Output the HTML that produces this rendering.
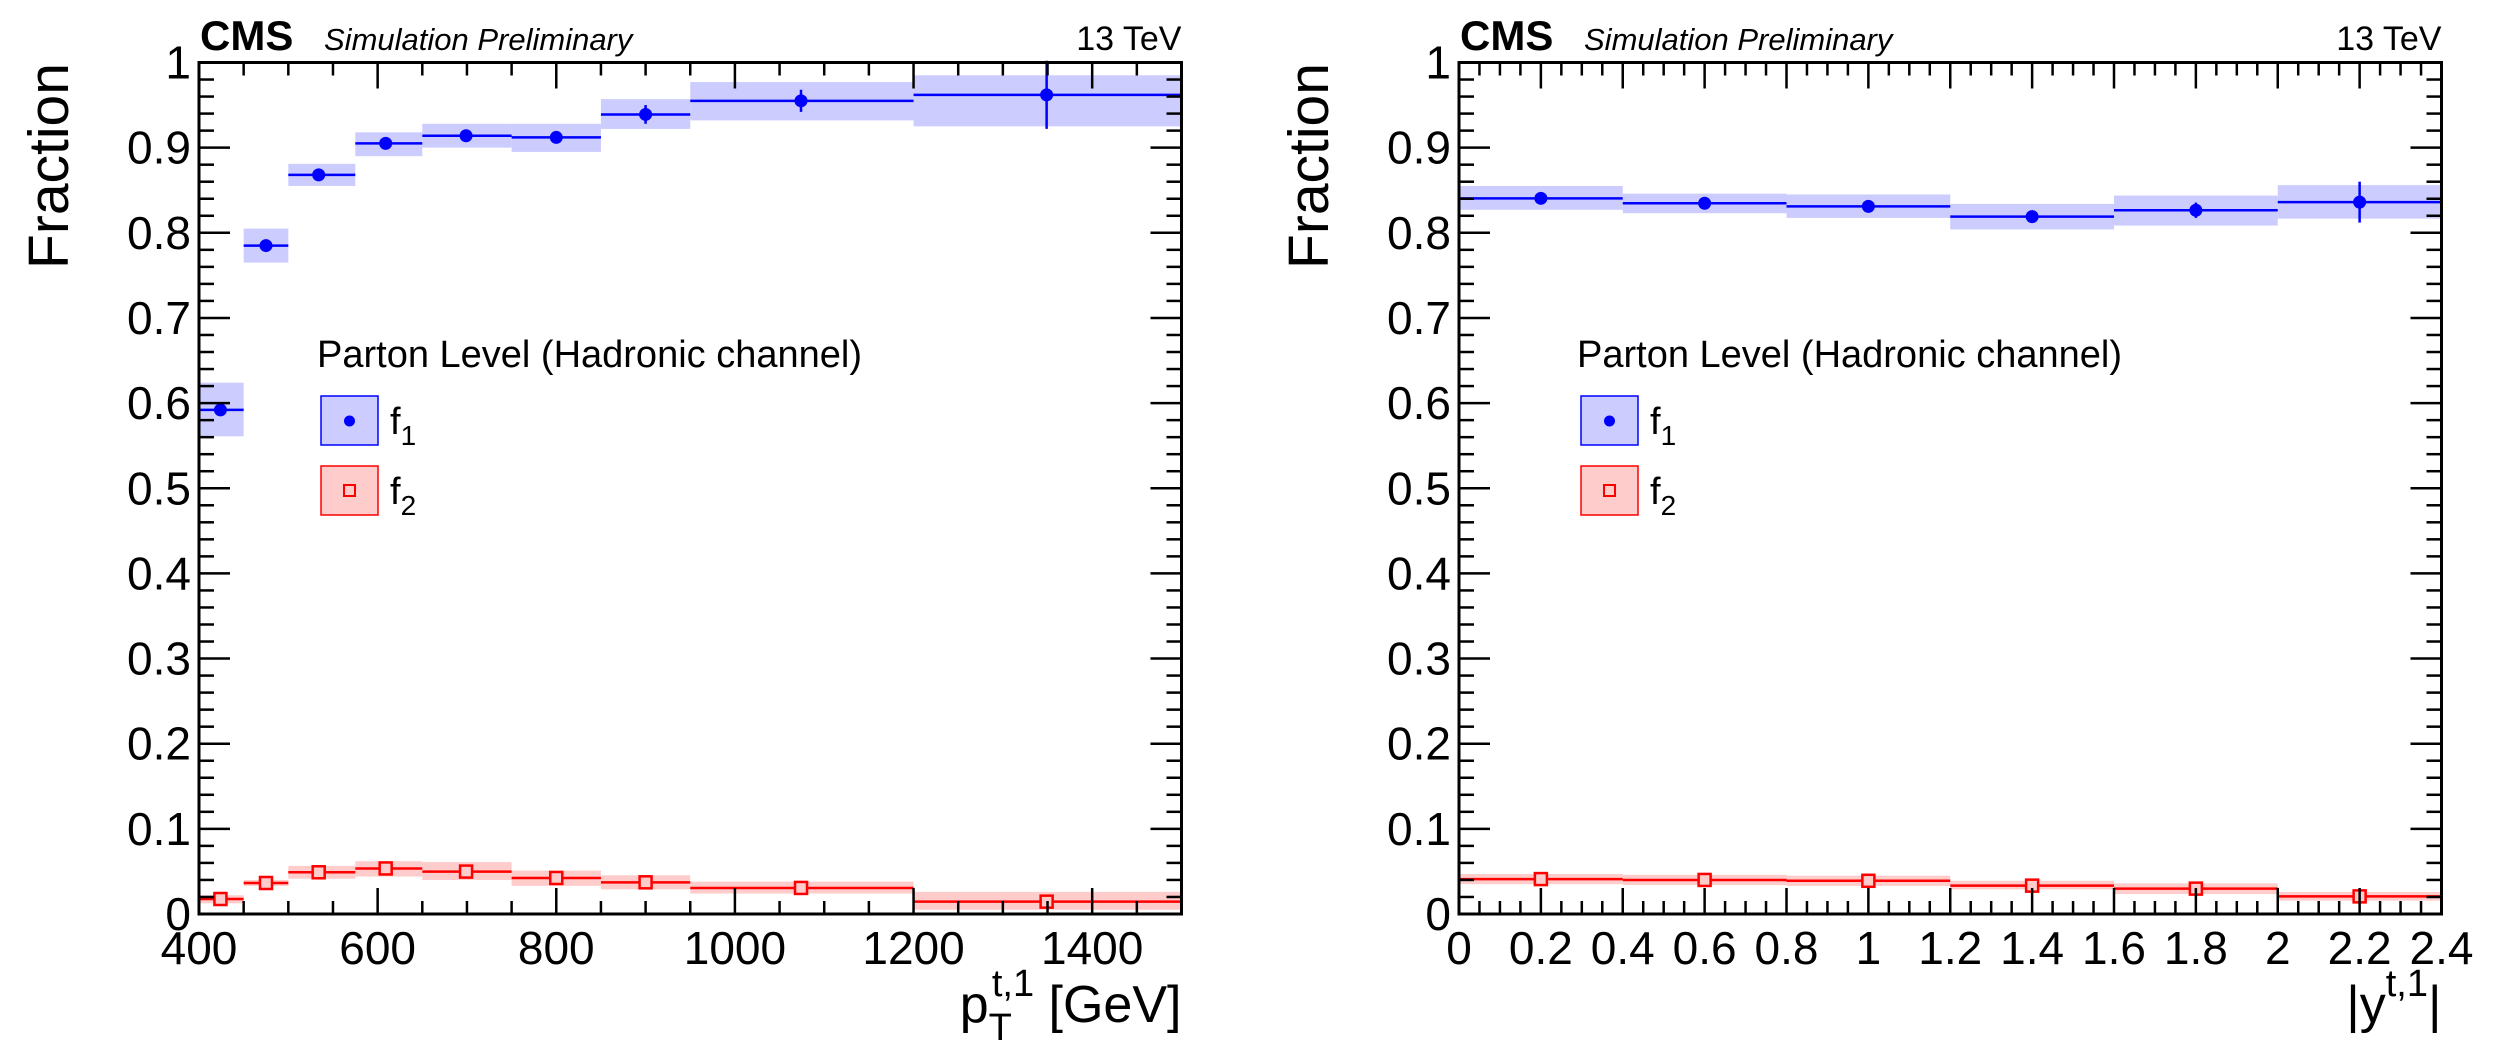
<!DOCTYPE html>
<html><head><meta charset="utf-8"><title>CMS fractions</title>
<style>html,body{margin:0;padding:0;background:#fff;}svg{display:block;font-family:"Liberation Sans",Arial,sans-serif;}</style>
</head><body>
<svg id="chart" xmlns="http://www.w3.org/2000/svg" width="2505" height="1051" viewBox="0 0 2505 1051"></svg>
<script>
// ---- Left panel data (pT) ----
const ptEdges = [400, 450, 500, 575, 650, 750, 850, 950, 1200, 1500];
const ptPoints = [424, 475, 534, 609, 699, 800, 900, 1074, 1349];
const ptF1 = [0.592, 0.785, 0.868, 0.905, 0.914, 0.912, 0.939, 0.955, 0.962];
const ptF1Lo = [0.561, 0.765, 0.855, 0.890, 0.900, 0.895, 0.922, 0.932, 0.925];
const ptF1Hi = [0.624, 0.805, 0.881, 0.918, 0.928, 0.928, 0.957, 0.977, 0.985];
const ptF1Err = [0.006, 0.005, 0.004, 0.004, 0.004, 0.005, 0.011, 0.013, 0.040];
const ptF2 = [0.0176, 0.0364, 0.049, 0.0535, 0.0498, 0.0423, 0.0372, 0.0306, 0.0145];
const ptF2Lo = [0.0125, 0.033, 0.0415, 0.044, 0.040, 0.033, 0.029, 0.024, 0.005];
const ptF2Hi = [0.022, 0.040, 0.0565, 0.062, 0.061, 0.051, 0.0455, 0.038, 0.026];
const ptF2Err = [0.005, 0.005, 0.006, 0.006, 0.006, 0.005, 0.005, 0.005, 0.006];
const ptTicks = [400, 600, 800, 1000, 1200, 1400];
const ptTickLabels = ["400", "600", "800", "1000", "1200", "1400"];

// ---- Right panel data (|y|) ----
const yEdges = [0, 0.4, 0.8, 1.2, 1.6, 2.0, 2.4];
const yPoints = [0.2, 0.6, 1.0, 1.4, 1.8, 2.2];
const yF1 = [0.8405, 0.8347, 0.831, 0.819, 0.8265, 0.836];
const yF1Lo = [0.827, 0.823, 0.8175, 0.804, 0.8085, 0.8166];
const yF1Hi = [0.855, 0.846, 0.845, 0.834, 0.8437, 0.856];
const yF1Err = [0.004, 0.004, 0.004, 0.005, 0.009, 0.024];
const yF2 = [0.041, 0.040, 0.039, 0.0333, 0.0298, 0.0207];
const yF2Lo = [0.035, 0.034, 0.033, 0.029, 0.0235, 0.0157];
const yF2Hi = [0.047, 0.046, 0.045, 0.039, 0.036, 0.0258];
const yF2Err = [0.003, 0.003, 0.003, 0.003, 0.003, 0.004];
const yTicks = [0, 0.2, 0.4, 0.6, 0.8, 1.0, 1.2, 1.4, 1.6, 1.8, 2.0, 2.2, 2.4];
const yTickLabels = ["0", "0.2", "0.4", "0.6", "0.8", "1", "1.2", "1.4", "1.6", "1.8", "2", "2.2", "2.4"];

const fracTicks = [0, 0.1, 0.2, 0.3, 0.4, 0.5, 0.6, 0.7, 0.8, 0.9, 1];
const fracTickLabels = ["0", "0.1", "0.2", "0.3", "0.4", "0.5", "0.6", "0.7", "0.8", "0.9", "1"];

const NS = "http://www.w3.org/2000/svg";
const svg = document.getElementById("chart");
function mk(tag, attrs, parent) {
  const e = document.createElementNS(NS, tag);
  for (const k in attrs) e.setAttribute(k, attrs[k]);
  (parent || svg).appendChild(e);
  return e;
}

function drawPanel(p) {
  const g = mk("g", {});
  
  
  const L = p.left, R = p.left + 982.5, T = 62.5, B = 914;
  const xs = v => L + (v - p.xmin) / (p.xmax - p.xmin) * (R - L);
  const ys = v => B - v * (B - T);

  function series(edges, pts, val, lo, hi, err, fill, col, marker, nm) {
    const sg = mk("g", {}, g);
    
    
    for (let i = 0; i < val.length; i++) {
      const band = mk("rect", {x: xs(edges[i]), y: ys(hi[i]), width: xs(edges[i+1]) - xs(edges[i]), height: ys(lo[i]) - ys(hi[i]), fill: fill}, sg);
      
      
    }
    for (let i = 0; i < val.length; i++) {
      const ln = mk("line", {x1: xs(edges[i]), x2: xs(edges[i+1]), y1: ys(val[i]), y2: ys(val[i]), stroke: col, "stroke-width": 2.5}, sg);
      
      
      const eb = mk("line", {x1: xs(pts[i]), x2: xs(pts[i]), y1: ys(val[i] + err[i]), y2: ys(val[i] - err[i]), stroke: col, "stroke-width": 2.5}, sg);
      
      
      let m;
      if (marker === "circle") {
        m = mk("circle", {cx: xs(pts[i]), cy: ys(val[i]), r: 6.5, fill: col}, sg);
      } else {
        m = mk("rect", {x: xs(pts[i]) - 6, y: ys(val[i]) - 6, width: 12, height: 12, fill: "#fcc", stroke: col, "stroke-width": 2.5}, sg);
      }
      
      
    }
  }
  series(p.edges, p.pts, p.f1, p.f1lo, p.f1hi, p.f1err, "#ccccff", "#0000ff", "circle", "f1-series");
  series(p.edges, p.pts, p.f2, p.f2lo, p.f2hi, p.f2err, "#ffcccc", "#ff0000", "square", "f2-series");

  const fr = mk("rect", {x: L, y: T, width: R - L, height: B - T, fill: "none", stroke: "#000", "stroke-width": 3}, g);
  
  

  for (let k = 0; k <= 50; k++) {
    const v = k / 50, y = ys(v), len = (k % 5 === 0) ? 31 : 15;
    mk("line", {x1: L, x2: L + len, y1: y, y2: y, stroke: "#000", "stroke-width": 2.5}, g);
    mk("line", {x1: R, x2: R - len, y1: y, y2: y, stroke: "#000", "stroke-width": 2.5}, g);
  }
  fracTicks.forEach((v, i) => {
    const t = mk("text", {x: L - 8, y: ys(v) + 16, "text-anchor": "end", "font-size": 46}, g);
    t.textContent = fracTickLabels[i];
    
    
  });
  const n = Math.round((p.xmax - p.xmin) / p.minor);
  for (let k = 0; k <= n; k++) {
    const v = p.xmin + k * p.minor, x = xs(v);
    const major = Math.abs(((v - p.xmin) / p.major) - Math.round((v - p.xmin) / p.major)) < 1e-6;
    const len = major ? 26 : 13;
    mk("line", {x1: x, x2: x, y1: B, y2: B - len, stroke: "#000", "stroke-width": 2.5}, g);
    mk("line", {x1: x, x2: x, y1: T, y2: T + len, stroke: "#000", "stroke-width": 2.5}, g);
  }
  p.ticks.forEach((v, i) => {
    const t = mk("text", {x: xs(v), y: 964, "text-anchor": "middle", "font-size": 46}, g);
    t.textContent = p.tickLabels[i];
    
    
  });

  const yt = mk("text", {x: 0, y: 0, transform: `translate(${L - 131},166) rotate(-90)`, "text-anchor": "middle", "font-size": 57}, g);
  yt.textContent = "Fraction";
  
  
  const xt = mk("text", {x: R, y: 1022, "text-anchor": "end", "font-size": 52}, g);
  xt.innerHTML = p.xtitle;
  
  

  const cms = mk("text", {x: L + 1, y: 50, "font-size": 42, "font-weight": "bold"}, g);
  cms.textContent = "CMS";
  
  
  const sim = mk("text", {x: L + 125, y: 50, "font-size": 31, "font-style": "italic"}, g);
  sim.textContent = "Simulation Preliminary";
  
  
  const tev = mk("text", {x: R, y: 50, "text-anchor": "end", "font-size": 34}, g);
  tev.textContent = "13 TeV";
  
  

  const lg = mk("g", {}, g);
  
  
  const lx = L + 119;
  const hd = mk("text", {x: lx - 1, y: 367, "font-size": 38}, lg);
  hd.textContent = "Parton Level (Hadronic channel)";
  
  
  const e1 = mk("g", {}, lg);
  
  
  mk("rect", {x: lx + 3, y: 396, width: 57, height: 49, fill: "#ccccff", stroke: "#0000ff", "stroke-width": 1.5}, e1);
  mk("circle", {cx: lx + 31.5, cy: 421, r: 5.5, fill: "#0000ff"}, e1);
  const t1 = mk("text", {x: lx + 72, y: 434, "font-size": 38}, e1);
  t1.innerHTML = 'f<tspan dy="11" font-size="28">1</tspan>';
  const e2 = mk("g", {}, lg);
  
  
  mk("rect", {x: lx + 3, y: 466, width: 57, height: 49, fill: "#ffcccc", stroke: "#ff0000", "stroke-width": 1.5}, e2);
  mk("rect", {x: lx + 26, y: 485, width: 11, height: 11, fill: "#ffcccc", stroke: "#ff0000", "stroke-width": 2}, e2);
  const t2 = mk("text", {x: lx + 72, y: 504, "font-size": 38}, e2);
  t2.innerHTML = 'f<tspan dy="11" font-size="28">2</tspan>';
}

drawPanel({name: "pt-panel", left: 199, xmin: 400, xmax: 1500, minor: 50, major: 200,
  edges: ptEdges, pts: ptPoints, f1: ptF1, f1lo: ptF1Lo, f1hi: ptF1Hi, f1err: ptF1Err,
  f2: ptF2, f2lo: ptF2Lo, f2hi: ptF2Hi, f2err: ptF2Err, ticks: ptTicks, tickLabels: ptTickLabels,
  xtitle: 'p<tspan dy="18" font-size="38">T</tspan><tspan dy="-44" dx="-20" font-size="38">t,1</tspan><tspan dy="26"> [GeV]</tspan>'});
drawPanel({name: "rapidity-panel", left: 1459, xmin: 0, xmax: 2.4, minor: 0.05, major: 0.2,
  edges: yEdges, pts: yPoints, f1: yF1, f1lo: yF1Lo, f1hi: yF1Hi, f1err: yF1Err,
  f2: yF2, f2lo: yF2Lo, f2hi: yF2Hi, f2err: yF2Err, ticks: yTicks, tickLabels: yTickLabels,
  xtitle: '|y<tspan dy="-26" font-size="38">t,1</tspan><tspan dy="26">|</tspan>'});
</script>
</body></html>
